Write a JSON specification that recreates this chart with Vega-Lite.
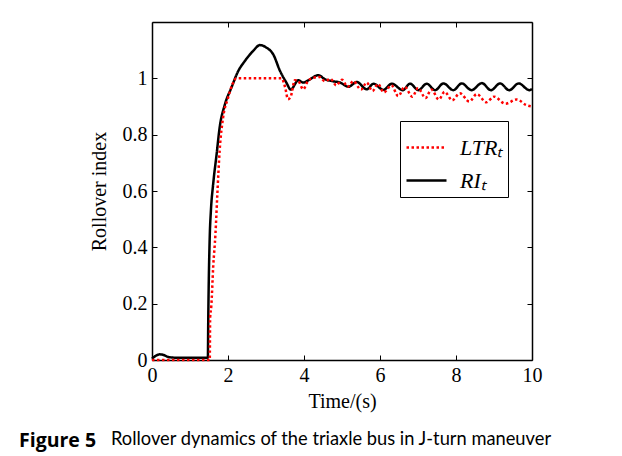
{
  "$schema": "https://vega.github.io/schema/vega-lite/v6.json",
  "width": 380,
  "height": 338,
  "autosize": {"type": "none"},
  "padding": {"left": 152, "top": 22, "right": 90, "bottom": 96},
  "background": "white",
  "title": {
    "text": "Figure 5",
    "subtitle": "\u200b\u2003\u2003\u2003\u2003\u2003\u00a0\u00a0\u00a0\u00a0\u00a0Rollover dynamics of the triaxle bus in J-turn maneuver",
    "orient": "bottom",
    "anchor": "start",
    "frame": "group",
    "dx": -133,
    "offset": 21,
    "font": "Open Sans",
    "fontSize": 19.5,
    "fontWeight": "bold",
    "color": "black",
    "subtitleFont": "Lato",
    "subtitleFontSize": 18.3,
    "subtitleFontWeight": "normal",
    "subtitleColor": "black",
    "subtitlePadding": -21
  },
  "data": {
    "values": [
      {"t": 0, "v": 0.005, "series": "RIₜ"},
      {"t": 0.1, "v": 0.015, "series": "RIₜ"},
      {"t": 0.2, "v": 0.02, "series": "RIₜ"},
      {"t": 0.3, "v": 0.018, "series": "RIₜ"},
      {"t": 0.45, "v": 0.01, "series": "RIₜ"},
      {"t": 0.7, "v": 0.008, "series": "RIₜ"},
      {"t": 1.0, "v": 0.008, "series": "RIₜ"},
      {"t": 1.47, "v": 0.008, "series": "RIₜ"},
      {"t": 1.48, "v": 0.14, "series": "RIₜ"},
      {"t": 1.52, "v": 0.44, "series": "RIₜ"},
      {"t": 1.55, "v": 0.53, "series": "RIₜ"},
      {"t": 1.61, "v": 0.625, "series": "RIₜ"},
      {"t": 1.7, "v": 0.73, "series": "RIₜ"},
      {"t": 1.78, "v": 0.825, "series": "RIₜ"},
      {"t": 1.92, "v": 0.908, "series": "RIₜ"},
      {"t": 2.09, "v": 0.967, "series": "RIₜ"},
      {"t": 2.27, "v": 1.026, "series": "RIₜ"},
      {"t": 2.44, "v": 1.061, "series": "RIₜ"},
      {"t": 2.66, "v": 1.097, "series": "RIₜ"},
      {"t": 2.84, "v": 1.118, "series": "RIₜ"},
      {"t": 3.0, "v": 1.11, "series": "RIₜ"},
      {"t": 3.19, "v": 1.085, "series": "RIₜ"},
      {"t": 3.37, "v": 1.026, "series": "RIₜ"},
      {"t": 3.54, "v": 0.984, "series": "RIₜ"},
      {"t": 3.65, "v": 0.96, "series": "RIₜ"},
      {"t": 3.85, "v": 0.993, "series": "RIₜ"},
      {"t": 3.98, "v": 0.985, "series": "RIₜ"},
      {"t": 4.1, "v": 0.992, "series": "RIₜ"},
      {"t": 4.38, "v": 1.011, "series": "RIₜ"},
      {"t": 4.55, "v": 0.997, "series": "RIₜ"},
      {"t": 4.75, "v": 0.99, "series": "RIₜ"},
      {"t": 4.95, "v": 0.985, "series": "RIₜ"},
      {"t": 5.17, "v": 0.97, "series": "RIₜ"},
      {"t": 5.39, "v": 0.987, "series": "RIₜ"},
      {"t": 5.65, "v": 0.961, "series": "RIₜ"},
      {"t": 5.83, "v": 0.981, "series": "RIₜ"},
      {"t": 6.09, "v": 0.959, "series": "RIₜ"},
      {"t": 6.31, "v": 0.981, "series": "RIₜ"},
      {"t": 6.6, "v": 0.958, "series": "RIₜ"},
      {"t": 6.79, "v": 0.981, "series": "RIₜ"},
      {"t": 7.01, "v": 0.958, "series": "RIₜ"},
      {"t": 7.23, "v": 0.981, "series": "RIₜ"},
      {"t": 7.45, "v": 0.958, "series": "RIₜ"},
      {"t": 7.67, "v": 0.982, "series": "RIₜ"},
      {"t": 7.93, "v": 0.958, "series": "RIₜ"},
      {"t": 8.15, "v": 0.982, "series": "RIₜ"},
      {"t": 8.41, "v": 0.958, "series": "RIₜ"},
      {"t": 8.68, "v": 0.983, "series": "RIₜ"},
      {"t": 8.92, "v": 0.958, "series": "RIₜ"},
      {"t": 9.16, "v": 0.982, "series": "RIₜ"},
      {"t": 9.4, "v": 0.958, "series": "RIₜ"},
      {"t": 9.65, "v": 0.982, "series": "RIₜ"},
      {"t": 9.93, "v": 0.958, "series": "RIₜ"},
      {"t": 10.0, "v": 0.962, "series": "RIₜ"},
      {"t": 0, "v": 0, "series": "LTRₜ"},
      {"t": 1.0, "v": 0, "series": "LTRₜ"},
      {"t": 1.52, "v": 0, "series": "LTRₜ"},
      {"t": 1.53, "v": 0.15, "series": "LTRₜ"},
      {"t": 1.56, "v": 0.19, "series": "LTRₜ"},
      {"t": 1.61, "v": 0.33, "series": "LTRₜ"},
      {"t": 1.67, "v": 0.448, "series": "LTRₜ"},
      {"t": 1.72, "v": 0.59, "series": "LTRₜ"},
      {"t": 1.78, "v": 0.743, "series": "LTRₜ"},
      {"t": 1.87, "v": 0.86, "series": "LTRₜ"},
      {"t": 2.0, "v": 0.93, "series": "LTRₜ"},
      {"t": 2.12, "v": 0.98, "series": "LTRₜ"},
      {"t": 2.22, "v": 1.0, "series": "LTRₜ"},
      {"t": 3.41, "v": 1.0, "series": "LTRₜ"},
      {"t": 3.5, "v": 0.97, "series": "LTRₜ"},
      {"t": 3.58, "v": 0.926, "series": "LTRₜ"},
      {"t": 3.65, "v": 0.935, "series": "LTRₜ"},
      {"t": 3.76, "v": 0.993, "series": "LTRₜ"},
      {"t": 3.85, "v": 0.99, "series": "LTRₜ"},
      {"t": 3.98, "v": 0.961, "series": "LTRₜ"},
      {"t": 4.1, "v": 0.99, "series": "LTRₜ"},
      {"t": 4.2, "v": 1.0, "series": "LTRₜ"},
      {"t": 4.4, "v": 1.005, "series": "LTRₜ"},
      {"t": 4.55, "v": 0.99, "series": "LTRₜ"},
      {"t": 4.7, "v": 0.998, "series": "LTRₜ"},
      {"t": 4.85, "v": 0.975, "series": "LTRₜ"},
      {"t": 5.0, "v": 0.995, "series": "LTRₜ"},
      {"t": 5.15, "v": 0.97, "series": "LTRₜ"},
      {"t": 5.3, "v": 0.99, "series": "LTRₜ"},
      {"t": 5.5, "v": 0.96, "series": "LTRₜ"},
      {"t": 5.65, "v": 0.985, "series": "LTRₜ"},
      {"t": 5.8, "v": 0.955, "series": "LTRₜ"},
      {"t": 5.95, "v": 0.98, "series": "LTRₜ"},
      {"t": 6.1, "v": 0.95, "series": "LTRₜ"},
      {"t": 6.3, "v": 0.975, "series": "LTRₜ"},
      {"t": 6.48, "v": 0.937, "series": "LTRₜ"},
      {"t": 6.65, "v": 0.97, "series": "LTRₜ"},
      {"t": 6.85, "v": 0.935, "series": "LTRₜ"},
      {"t": 7.0, "v": 0.965, "series": "LTRₜ"},
      {"t": 7.2, "v": 0.93, "series": "LTRₜ"},
      {"t": 7.35, "v": 0.96, "series": "LTRₜ"},
      {"t": 7.55, "v": 0.925, "series": "LTRₜ"},
      {"t": 7.7, "v": 0.952, "series": "LTRₜ"},
      {"t": 7.9, "v": 0.922, "series": "LTRₜ"},
      {"t": 8.1, "v": 0.947, "series": "LTRₜ"},
      {"t": 8.35, "v": 0.918, "series": "LTRₜ"},
      {"t": 8.55, "v": 0.944, "series": "LTRₜ"},
      {"t": 8.8, "v": 0.915, "series": "LTRₜ"},
      {"t": 9.0, "v": 0.935, "series": "LTRₜ"},
      {"t": 9.3, "v": 0.91, "series": "LTRₜ"},
      {"t": 9.6, "v": 0.925, "series": "LTRₜ"},
      {"t": 9.85, "v": 0.905, "series": "LTRₜ"},
      {"t": 10.0, "v": 0.9, "series": "LTRₜ"}
    ]
  },
  "encoding": {
    "x": {"field": "t", "type": "quantitative", "scale": {"domain": [0, 10], "nice": false, "zero": false}},
    "y": {"field": "v", "type": "quantitative", "scale": {"domain": [0, 1.2], "nice": false}},
    "color": {
      "field": "series", "type": "nominal",
      "scale": {"domain": ["LTRₜ", "RIₜ"], "range": ["#ff0000", "#000000"]},
      "legend": {"title": null}
    },
    "strokeDash": {
      "field": "series", "type": "nominal",
      "scale": {"domain": ["LTRₜ", "RIₜ"], "range": [[2.5, 2.5], [1, 0]]},
      "legend": {"title": null}
    }
  },
  "layer": [
    {
      "transform": [{"filter": "datum.series === 'RIₜ'"}],
      "mark": {"type": "line", "strokeWidth": 2.5, "interpolate": "monotone"},
      "encoding": {
        "x": {"field": "t", "type": "quantitative", "axis": {"orient": "bottom", "values": [0, 2, 4, 6, 8, 10], "title": "Time/(s)", "tickSize": -5, "labelPadding": 10, "labelFlush": false, "titlePadding": 6}},
        "y": {"field": "v", "type": "quantitative", "axis": {"orient": "left", "values": [0, 0.2, 0.4, 0.6, 0.8, 1], "format": "~g", "title": "Rollover index", "tickSize": -5, "labelPadding": 10, "labelFlush": false, "titlePadding": 13}}
      }
    },
    {
      "transform": [{"filter": "datum.series === 'LTRₜ'"}],
      "mark": {"type": "line", "strokeWidth": 2.5, "interpolate": "monotone"},
      "encoding": {
        "x": {"field": "t", "type": "quantitative", "axis": {"orient": "top", "values": [0, 2, 4, 6, 8, 10], "labels": false, "title": null, "tickSize": -5}},
        "y": {"field": "v", "type": "quantitative", "axis": {"orient": "right", "values": [0, 0.2, 0.4, 0.6, 0.8, 1], "labels": false, "title": null, "tickSize": -5}}
      }
    }
  ],
  "resolve": {"axis": {"x": "independent", "y": "independent"}},
  "config": {
    "view": {"stroke": null},
    "axis": {
      "domainColor": "black",
      "domainWidth": 1.5,
      "tickColor": "black",
      "tickWidth": 1,
      "grid": false,
      "labelFont": "Liberation Serif",
      "labelFontSize": 20,
      "labelColor": "black",
      "titleFont": "Liberation Serif",
      "titleFontSize": 20,
      "titleFontWeight": "normal",
      "titleColor": "black"
    },
    "legend": {
      "orient": "none",
      "legendX": 248,
      "legendY": 99,
      "strokeColor": "black",
      "fillColor": "white",
      "padding": 5,
      "symbolType": "stroke",
      "symbolSize": 1600,
      "symbolStrokeWidth": 2.5,
      "labelFont": "Liberation Serif",
      "labelFontSize": 22,
      "labelFontStyle": "italic",
      "labelColor": "black",
      "labelOffset": 12,
      "rowPadding": 0
    }
  }
}
